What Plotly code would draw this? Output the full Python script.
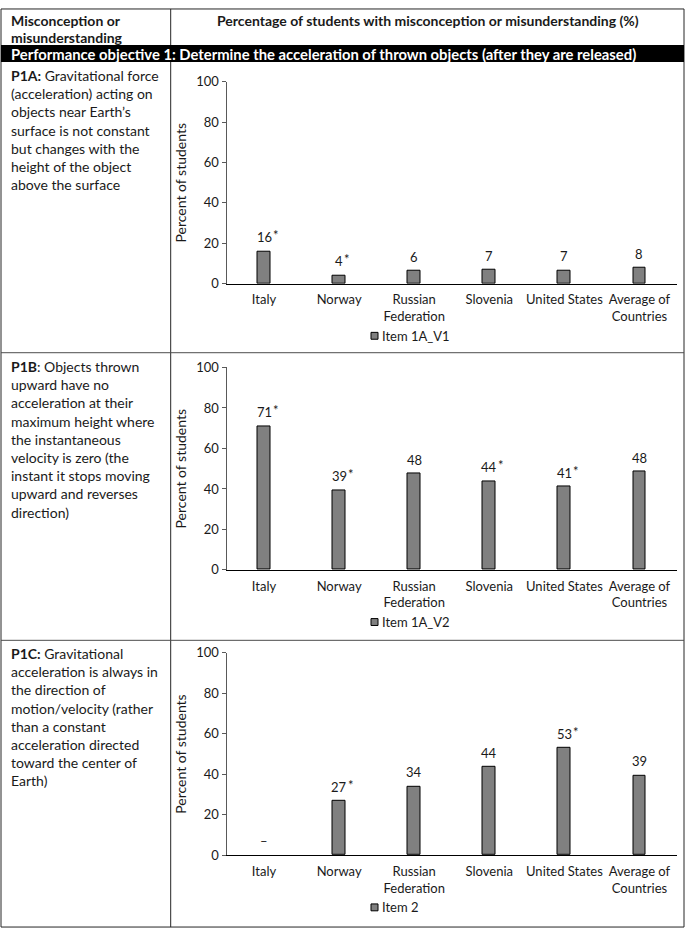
import plotly.graph_objects as go

W, H = 685, 937
FONT = "Lato"
TXT = "#1a1a1a"

# categories shared by the three panels
countries = ["Italy", "Norway", "Russian<br>Federation", "Slovenia",
             "United States", "Average of<br>Countries"]

# P1A - Item 1A_V1
p1a_values = [16.0, 4.2, 6.4, 7.0, 6.6, 8.0]
p1a_labels = ["16", "4", "6", "7", "7", "8"]
p1a_stars = [True, True, False, False, False, False]

# P1B - Item 1A_V2
p1b_values = [70.9, 39.3, 47.6, 43.7, 41.0, 48.5]
p1b_labels = ["71", "39", "48", "44", "41", "48"]
p1b_stars = [True, True, False, True, True, False]

# P1C - Item 2 (Italy not reported)
p1c_values = [None, 27.0, 34.0, 43.8, 52.9, 39.5]
p1c_labels = ["–", "27", "34", "44", "53", "39"]
p1c_stars = [False, True, False, False, True, False]

series_names = ["Item 1A_V1", "Item 1A_V2", "Item 2"]

row_texts = [
    "<b>P1A:</b> Gravitational force<br>(acceleration) acting on<br>objects near Earth’s<br>"
    "surface is not constant<br>but changes with the<br>height of the object<br>above the surface",
    "<b>P1B</b>: Objects thrown<br>upward have no<br>acceleration at their<br>maximum height where<br>"
    "the instantaneous<br>velocity is zero (the<br>instant it stops moving<br>upward and reverses<br>direction)",
    "<b>P1C:</b> Gravitational<br>acceleration is always in<br>the direction of<br>motion/velocity (rather<br>"
    "than a constant<br>acceleration directed<br>toward the center of<br>Earth)",
]

yticks = [0, 20, 40, 60, 80, 100]


def px(x):
    return x / W


def py(y):
    return 1 - y / H


# pixel layout of the table / panels
X_AXIS0, X_AXIS1 = 226.5, 677.0
panels = [  # (row top, y of 100, y of 0)
    (55.0, 75.0, 280.5),
    (350.7, 365.7, 571.7),
    (643.3, 656.0, 862.0),
]
datasets = [
    (p1a_values, p1a_labels, p1a_stars),
    (p1b_values, p1b_labels, p1b_stars),
    (p1c_values, p1c_labels, p1c_stars),
]

fig = go.Figure()
shapes = []
annotations = []

for i, ((row_top, y100, y0), (vals, labs, stars)) in enumerate(zip(panels, datasets)):
    n = "" if i == 0 else str(i + 1)
    xa, ya = "x" + n, "y" + n

    fig.add_trace(go.Bar(
        x=countries, y=vals, width=0.17,
        marker=dict(color="#808080", line=dict(color="#000000", width=1)),
        xaxis=xa, yaxis=ya, showlegend=False, hoverinfo="x+y",
    ))

    fig.layout["xaxis" + n] = dict(
        domain=[px(X_AXIS0), px(X_AXIS1)], anchor=ya,
        range=[-0.5, 5.5], showline=True, linecolor="#000000", linewidth=1,
        ticks="", showgrid=False, zeroline=False,
        tickfont=dict(family=FONT, size=13, color=TXT),
        ticklabelstandoff=4,
    )
    fig.layout["yaxis" + n] = dict(
        domain=[py(y0), py(y100)], anchor=xa,
        range=[0, 100], tickvals=yticks, showline=True, linecolor="#595959",
        linewidth=1, ticks="outside", ticklen=4, tickcolor="#595959",
        showgrid=False, zeroline=False,
        tickfont=dict(family=FONT, size=13, color=TXT),
        title=dict(text="Percent of students", standoff=6,
                   font=dict(family=FONT, size=14, color=TXT)),
    )

    for c, v, lab, st in zip(countries, vals, labs, stars):
        yv = v if v is not None else 0
        annotations.append(dict(
            x=c, y=yv, xref=xa, yref=ya, text=lab, showarrow=False,
            yshift=14, font=dict(family=FONT, size=13, color=TXT),
        ))
        if st:
            annotations.append(dict(
                x=c, y=yv, xref=xa, yref=ya, text="*", showarrow=False,
                xanchor="left", xshift=3.75 * len(lab) - 0.5, yshift=16,
                font=dict(family=FONT, size=13, color=TXT),
            ))

    # legend under each panel
    ly = y0 + 53
    shapes.append(dict(type="rect", xref="paper", yref="paper",
                       x0=px(371), x1=px(378), y0=py(ly - 3.5), y1=py(ly + 3.5),
                       fillcolor="#808080", line=dict(color="#000000", width=1)))
    annotations.append(dict(x=px(380), y=py(ly), xref="paper", yref="paper",
                            text=series_names[i], showarrow=False,
                            xanchor="left", yanchor="middle",
                            font=dict(family=FONT, size=13, color=TXT)))

    # misconception description in the left column
    annotations.append(dict(x=px(9), y=py(row_top + 3), xref="paper", yref="paper",
                            text=row_texts[i], showarrow=False, align="left",
                            xanchor="left", yanchor="top",
                            font=dict(family=FONT, size=14, color=TXT)))

# table frame
LINE = "#4d4d4d"
shapes += [
    dict(type="rect", xref="paper", yref="paper", x0=px(1), x1=px(684),
         y0=py(935), y1=py(1), line=dict(color="#262626", width=1)),
    dict(type="line", xref="paper", yref="paper", x0=px(170.7), x1=px(170.7),
         y0=py(935), y1=py(1), line=dict(color="#262626", width=1)),
    dict(type="line", xref="paper", yref="paper", x0=px(1), x1=px(684),
         y0=py(350.7), y1=py(350.7), line=dict(color=LINE, width=1)),
    dict(type="line", xref="paper", yref="paper", x0=px(1), x1=px(684),
         y0=py(643.3), y1=py(643.3), line=dict(color=LINE, width=1)),
    dict(type="rect", xref="paper", yref="paper", x0=px(1), x1=px(684),
         y0=py(55), y1=py(37.7), fillcolor="#000000", line=dict(width=0)),
]

annotations += [
    dict(x=px(9), y=py(12.7), xref="paper", yref="paper",
         text="<b>Misconception or</b>", showarrow=False,
         xanchor="left", yanchor="middle",
         font=dict(family=FONT, size=14, color=TXT)),
    dict(x=px(9), y=py(29.8), xref="paper", yref="paper",
         text="<b>misunderstanding</b>", showarrow=False,
         xanchor="left", yanchor="middle",
         font=dict(family=FONT, size=14, color=TXT)),
    dict(x=px(427.5), y=py(12.7), xref="paper", yref="paper",
         text="<b>Percentage of students with misconception or misunderstanding (%)</b>",
         showarrow=False, xanchor="center", yanchor="middle",
         font=dict(family=FONT, size=14, color=TXT)),
    dict(x=px(9), y=py(47), xref="paper", yref="paper",
         text="<b>Performance objective 1: Determine the acceleration of thrown objects "
              "(after they are released)</b>",
         showarrow=False, xanchor="left", yanchor="middle",
         font=dict(family=FONT, size=14.8, color="#ffffff")),
]

fig.update_layout(
    width=W, height=H, margin=dict(l=0, r=0, t=0, b=0),
    paper_bgcolor="#ffffff", plot_bgcolor="#ffffff",
    font=dict(family=FONT, color=TXT),
    shapes=shapes, annotations=annotations, bargap=0,
)

# drop the browser's default body margin so the figure sits at the page origin
fig.write_html("out.html", config={"displayModeBar": False},
               post_script="document.body.style.margin='0';")
